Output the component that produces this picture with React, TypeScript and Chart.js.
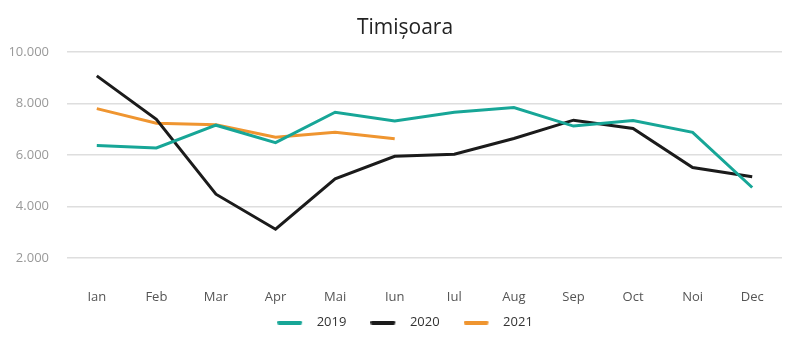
import React, { useEffect, useRef } from "react";
import { Chart, registerables } from "chart.js";

Chart.register(...registerables);

const months = ["Ian", "Feb", "Mar", "Apr", "Mai", "Iun", "Iul", "Aug", "Sep", "Oct", "Noi", "Dec"];
const s2019 = [6380, 6280, 7165, 6490, 7670, 7330, 7670, 7850, 7130, 7345, 6890, 4745];
const s2020 = [9080, 7390, 4485, 3125, 5080, 5960, 6040, 6650, 7360, 7035, 5520, 5160];
const s2021 = [7810, 7245, 7180, 6700, 6890, 6635, null, null, null, null, null, null];
const yTicks = [2000, 4000, 6000, 8000, 10000];

const FONT = "'Open Sans', 'DejaVu Sans', sans-serif";
const C2019 = "#17a697";
const C2020 = "#1b1b1b";
const C2021 = "#ef9530";

function lineMarker(color: string): HTMLCanvasElement {
  const c = document.createElement("canvas");
  c.width = 33;
  c.height = 4;
  const g = c.getContext("2d")!;
  g.fillStyle = color;
  g.beginPath();
  g.roundRect(0, 0, 25, 4, 2);
  g.fill();
  return c;
}

export default function App() {
  const ref = useRef<HTMLCanvasElement | null>(null);
  useEffect(() => {
    document.body.style.margin = "0";
    const ctx = ref.current!;
    const chart = new Chart(ctx, {
      type: "line",
      data: {
        labels: months,
        datasets: [
          { label: "2019", data: s2019, borderColor: C2019, backgroundColor: C2019, borderWidth: 3, pointRadius: 0, pointStyle: lineMarker(C2019), tension: 0 },
          { label: "2020", data: s2020, borderColor: C2020, backgroundColor: C2020, borderWidth: 3, pointRadius: 0, pointStyle: lineMarker(C2020), tension: 0 },
          { label: "2021", data: s2021, borderColor: C2021, backgroundColor: C2021, borderWidth: 3, pointRadius: 0, pointStyle: lineMarker(C2021), tension: 0 },
        ],
      },
      options: {
        animation: false,
        responsive: false,
        layout: { padding: { left: 10, right: 0, top: 4, bottom: 9 } },
        plugins: {
          title: {
            display: true,
            text: "Timișoara",
            color: "#222",
            font: { family: FONT, size: 21, weight: "normal" },
            padding: { top: 11, bottom: 12 },
          },
          legend: {
            position: "bottom",
            title: { display: true, text: "", font: { size: 1 }, padding: { top: -15, bottom: 0 } },
            labels: {
              usePointStyle: true,
              pointStyleWidth: 33,
              color: "#333",
              font: { family: FONT, size: 13 },
              padding: 24,
            },
          },
          tooltip: { enabled: false },
        },
        scales: {
          x: {
            offset: true,
            grid: { display: false, drawTicks: true, tickLength: 30 },
            border: { display: false },
            ticks: { color: "#555", font: { family: FONT, size: 13 }, padding: 1, maxRotation: 0, autoSkip: false },
          },
          y: {
            min: 2000,
            max: 10000,
            afterBuildTicks: (axis: any) => {
              axis.ticks = yTicks.map((v) => ({ value: v }));
            },
            afterFit: (s: any) => {
              s.width = 57;
            },
            grid: { color: "#dedede", lineWidth: 1.5, drawTicks: false },
            border: { display: false },
            ticks: {
              color: "#999",
              font: { family: FONT, size: 13 },
              padding: 18,
              callback: (v: any) => Number(v).toLocaleString("de-DE"),
            },
          },
          yR: {
            type: "linear",
            position: "right",
            grid: { display: false },
            border: { display: false },
            ticks: { display: false },
            afterFit: (s: any) => {
              s.width = 18;
            },
          },
        },
      },
    });
    return () => chart.destroy();
  }, []);
  return (
    <div style={{ width: 800, height: 348 }}>
      <canvas ref={ref} width={800} height={348} />
    </div>
  );
}
